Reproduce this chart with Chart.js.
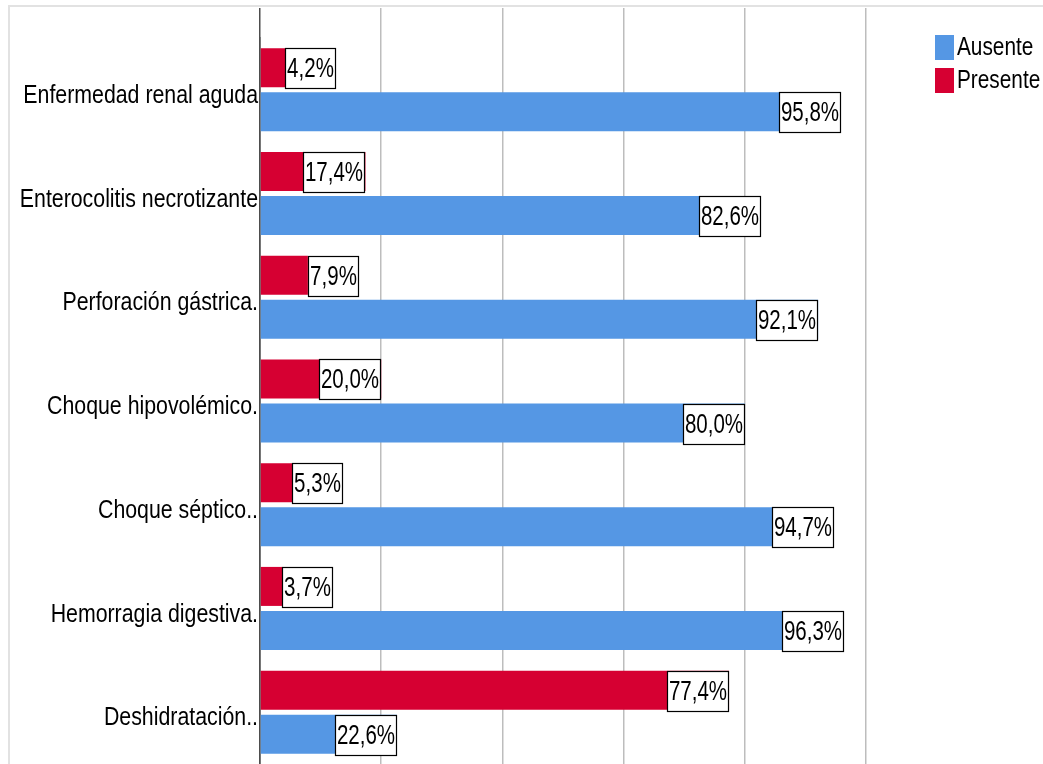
<!DOCTYPE html>
<html>
<head>
<meta charset="utf-8">
<script src="https://cdn.jsdelivr.net/npm/chart.js@4"></script>
<style>
    html, body { margin: 0; padding: 0; background: #fff; overflow: hidden; }
    #wrap { position: relative; width: 1043px; height: 764px; }
    #frame {
        position: absolute; left: 8px; top: 5px; right: 0; bottom: 0;
        border-top: 2px solid #e2e2e2; border-left: 2px solid #e2e2e2;
        pointer-events: none;
    }
</style>
</head>
<body>
<div id="wrap">
    <canvas id="complicacionesChart" width="1043" height="764"></canvas>
    <div id="frame"></div>
</div>
<script>
const complicaciones = [
    'Enfermedad renal aguda',
    'Enterocolitis necrotizante',
    'Perforación gástrica.',
    'Choque hipovolémico.',
    'Choque séptico..',
    'Hemorragia digestiva.',
    'Deshidratación..',
];
const presente = [4.2, 17.4, 7.9, 20.0, 5.3, 3.7, 77.4];
const ausente = [95.8, 82.6, 92.1, 80.0, 94.7, 96.3, 22.6];
const xTicks = [0, 20, 40, 60, 80, 100];

const FONT = "'Liberation Sans', Arial, sans-serif";
const AZUL = '#5597e4';
const ROJO = '#d60032';

const fmt = (v) => v.toFixed(1).replace('.', ',') + '%';

// text squeezed horizontally to get a narrow face
function narrowText(ctx, txt, x, y, align, sx) {
    ctx.save();
    ctx.translate(x, y);
    ctx.scale(sx, 1);
    ctx.textAlign = align;
    ctx.fillText(txt, 0, 0);
    ctx.restore();
}

// category names left of the axis
const categorias = {
    id: 'categorias',
    afterDraw(chart) {
        const ctx = chart.ctx;
        const y = chart.scales.y;
        ctx.save();
        ctx.font = '26px ' + FONT;
        ctx.textBaseline = 'middle';
        ctx.fillStyle = '#000';
        chart.data.labels.forEach((lab, i) => {
            narrowText(ctx, lab, y.right - 2, y.getPixelForValue(i) + 6, 'right', 0.82);
        });
        ctx.restore();
    },
};

// boxed percentage at the end of every bar
const etiquetas = {
    id: 'etiquetas',
    afterDatasetsDraw(chart) {
        const ctx = chart.ctx;
        const sx = 0.76;
        ctx.save();
        ctx.font = '27px ' + FONT;
        ctx.textBaseline = 'middle';
        chart.data.datasets.forEach((ds, i) => {
            chart.getDatasetMeta(i).data.forEach((bar, j) => {
                const txt = fmt(ds.data[j]);
                const w = Math.round(ctx.measureText(txt).width * sx) + 4;
                const h = Math.round(bar.height) + 2;
                const largo = bar.x - bar.base;
                const left = Math.round(largo >= w ? bar.x - w : bar.x);
                const top = Math.round(bar.y - h / 2 + 1);
                ctx.fillStyle = '#fff';
                ctx.fillRect(left, top, w, h);
                ctx.strokeStyle = '#000';
                ctx.lineWidth = 1.2;
                ctx.strokeRect(left + 0.5, top + 0.5, w - 1, h - 1);
                ctx.fillStyle = '#000';
                narrowText(ctx, txt, left + w / 2, top + h / 2 + 1, 'center', sx);
            });
        });
        ctx.restore();
    },
};

// legend in the upper right corner, Ausente first
const leyenda = {
    id: 'leyenda',
    afterDraw(chart) {
        const ctx = chart.ctx;
        ctx.save();
        ctx.font = '26px ' + FONT;
        ctx.textBaseline = 'middle';
        [1, 0].forEach((i, k) => {
            const ds = chart.data.datasets[i];
            const y = 35 + k * 33;
            ctx.fillStyle = ds.backgroundColor;
            ctx.fillRect(935, y, 19, 25);
            ctx.fillStyle = '#000';
            narrowText(ctx, ds.label, 957, y + 13, 'left', 0.8);
        });
        ctx.restore();
    },
};

const chart = new Chart(document.querySelector('#complicacionesChart'), {
    type: 'bar',
    data: {
        labels: complicaciones,
        datasets: [
            {
                label: 'Presente',
                data: presente,
                backgroundColor: ROJO,
                categoryPercentage: 0.849,
                barPercentage: 0.886,
            },
            {
                label: 'Ausente',
                data: ausente,
                backgroundColor: AZUL,
                categoryPercentage: 0.849,
                barPercentage: 0.886,
            },
        ],
    },
    options: {
        indexAxis: 'y',
        responsive: false,
        animation: false,
        layout: {
            padding: { top: 8, right: 177, bottom: 0, left: 0 },
        },
        plugins: {
            legend: { display: false },
            tooltip: { enabled: false },
        },
        scales: {
            x: {
                position: 'top',
                min: 0,
                max: 100,
                afterBuildTicks: (scale) => {
                    scale.ticks = xTicks.map((v) => ({ value: v }));
                },
                ticks: { display: false },
                border: { display: false },
                grid: {
                    color: (c) => (c.index === 0 ? '#4d4d4d' : '#bdbdbd'),
                    lineWidth: 1.5,
                    drawTicks: true,
                    tickLength: 30,
                },
            },
            y: {
                afterFit: (scale) => {
                    scale.width = 260;
                },
                grid: { display: false },
                border: { display: true, color: '#4d4d4d', width: 1.5 },
                ticks: { display: false },
            },
        },
    },
    plugins: [etiquetas, categorias, leyenda],
});
</script>
</body>
</html>
